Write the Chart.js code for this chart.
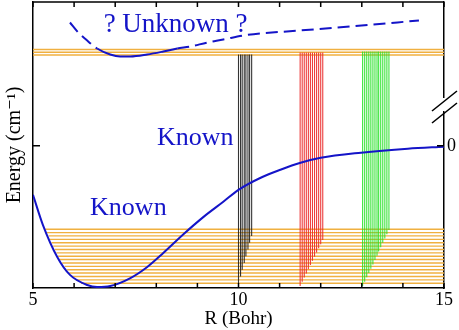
<!DOCTYPE html>
<html>
<head>
<meta charset="utf-8">
<script src="https://cdn.jsdelivr.net/npm/chart.js@4"></script>
<style>
  body { margin: 0; background: #fff; }
  canvas { display: block; }
</style>
</head>
<body>
<canvas id="potChart" width="459" height="330"></canvas>
<script>
// Đường thế đã biết (R theo Bohr, năng lượng tương đối)
const knownR = [5.00, 5.24, 5.59, 5.90, 6.32, 6.56, 6.88, 7.37, 7.78, 8.17, 8.66, 9.15, 9.63, 10.00, 10.54, 11.02, 11.51, 12.00, 12.98, 14.12, 15.00];
const knownE = [-0.345, -0.556, -0.782, -0.908, -0.979, -0.993, -0.986, -0.930, -0.852, -0.754, -0.622, -0.500, -0.394, -0.310, -0.225, -0.169, -0.120, -0.085, -0.049, -0.021, -0.007];

// Đường thế chưa biết (nét đứt, phần giếng vẽ liền)
const unknownR = [5.90, 6.10, 6.29, 6.56, 6.88, 7.12, 7.37, 7.78, 8.17, 8.51, 8.83, 9.24, 9.63, 10.12, 11.51, 12.73, 14.39];
const unknownE = [0.866, 0.796, 0.746, 0.683, 0.641, 0.627, 0.627, 0.641, 0.662, 0.683, 0.697, 0.725, 0.746, 0.775, 0.810, 0.838, 0.880];
const solidFrom = 6.56, solidTo = 8.51;

// Mức năng lượng
const upperLevels = [0.676, 0.657, 0.637];
const lowerLevels = [-0.587, -0.611, -0.634, -0.658, -0.682, -0.706, -0.729, -0.753, -0.777, -0.800, -0.824, -0.848, -0.872, -0.895, -0.919, -0.943, -0.967];
const lowerLeftR = [5.30, 5.34, 5.38, 5.41, 5.45, 5.49, 5.53, 5.57, 5.61, 5.65, 5.71, 5.77, 5.83, 5.88, 5.95, 6.05, 6.17];

// Các chuyển dời (vạch đứng)
const blackR = [10.00, 10.05, 10.09, 10.14, 10.18, 10.23, 10.27, 10.32];
const blackBottom = [-0.967, -0.919, -0.872, -0.824, -0.777, -0.729, -0.682, -0.634];
const blackTop = 0.641;
const redR = [11.50, 11.55, 11.60, 11.65, 11.70, 11.75, 11.80, 11.85, 11.90, 11.95, 12.00, 12.05];
const redBottom = [-0.986, -0.956, -0.927, -0.898, -0.868, -0.839, -0.809, -0.780, -0.750, -0.721, -0.692, -0.662];
const redTop = 0.655;
const greenR = [13.02, 13.07, 13.12, 13.17, 13.22, 13.27, 13.32, 13.37, 13.41, 13.46, 13.51, 13.56, 13.61, 13.66];
const greenBottom = [-0.986, -0.956, -0.925, -0.895, -0.865, -0.835, -0.804, -0.773, -0.743, -0.713, -0.682, -0.652, -0.622, -0.592];
const greenTop = 0.662;

// Trục
const xTicks = [5, 6, 7, 8, 9, 10, 11, 12, 13, 14, 15];
const xTickLabels = ["5", "", "", "", "", "10", "", "", "", "", "15"];
const rightTickLabel = "0";

// Chữ chú thích
const notes = [
  { text: "? Unknown ?", x: 8.47, y: 0.85, size: 27 },
  { text: "Known", x: 8.95, y: 0.056, size: 26 },
  { text: "Known", x: 7.32, y: -0.437, size: 26 }
];

const BLUE = "#1414c8";
const ORANGE = "#f0b040";
const SERIF = "'Liberation Serif', 'DejaVu Serif', serif";

function toPts(xs, ys) {
  return xs.map((x, i) => ({ x: x, y: ys[i] }));
}

const datasets = [];

datasets.push({
  data: toPts(knownR, knownE),
  borderColor: BLUE, borderWidth: 2, order: 0,
  cubicInterpolationMode: "monotone"
});
datasets.push({
  data: toPts(unknownR, unknownE),
  borderColor: BLUE, borderWidth: 2, order: 0,
  cubicInterpolationMode: "monotone",
  segment: {
    borderDash: ctx => (ctx.p0.parsed.x >= solidFrom && ctx.p1.parsed.x <= solidTo) ? [] : [12, 6]
  }
});

function addSticks(rs, bottoms, top, color) {
  rs.forEach((r, i) => {
    datasets.push({
      data: [{ x: r, y: bottoms[i] }, { x: r, y: top }],
      borderColor: color, borderWidth: 1.1, order: 1
    });
  });
}
addSticks(blackR, blackBottom, blackTop, "rgba(30,30,30,0.9)");
addSticks(redR, redBottom, redTop, "rgba(235,40,40,0.9)");
addSticks(greenR, greenBottom, greenTop, "rgba(40,225,40,0.9)");

upperLevels.forEach(e => {
  datasets.push({ data: [{ x: 5, y: e }, { x: 15, y: e }], borderColor: ORANGE, borderWidth: 1.4, order: 2 });
});
lowerLevels.forEach((e, i) => {
  datasets.push({ data: [{ x: lowerLeftR[i], y: e }, { x: 15, y: e }], borderColor: ORANGE, borderWidth: 1.4, order: 2 });
});

datasets.forEach(d => { d.showLine = true; d.pointRadius = 0; d.fill = false; });

// Vẽ khung, vạch chia hướng vào trong, dấu ngắt trục và chữ
const framePlugin = {
  id: "frame",
  afterDraw(chart) {
    const { ctx, chartArea: a, scales } = chart;
    const xs = scales.x, ys = scales.y;
    ctx.save();
    ctx.strokeStyle = "#000";
    ctx.lineWidth = 1.5;
    ctx.beginPath();
    ctx.moveTo(a.left, a.top); ctx.lineTo(a.right, a.top);
    xTicks.forEach(t => {
      const px = xs.getPixelForValue(t);
      ctx.moveTo(px, a.top); ctx.lineTo(px, a.top + 5);
      ctx.moveTo(px, a.bottom); ctx.lineTo(px, a.bottom - 5);
    });
    const y0 = ys.getPixelForValue(0);
    ctx.moveTo(a.left, y0); ctx.lineTo(a.left + 7, y0);
    ctx.moveTo(a.right, y0); ctx.lineTo(a.right - 7, y0);
    ctx.stroke();

    // nhãn 0 bên phải
    ctx.fillStyle = "#000";
    ctx.font = "18px " + SERIF;
    ctx.textAlign = "left";
    ctx.textBaseline = "middle";
    ctx.fillText(rightTickLabel, a.right + 3, y0 + 1);

    // dấu //
    ctx.fillStyle = "#fff";
    ctx.fillRect(a.right - 2, 98, 4, 13);
    ctx.lineWidth = 1.6;
    ctx.beginPath();
    ctx.moveTo(432, 111); ctx.lineTo(457, 91);
    ctx.moveTo(432, 123); ctx.lineTo(457, 103);
    ctx.stroke();

    ctx.fillStyle = BLUE;
    ctx.textAlign = "center";
    notes.forEach(n => {
      ctx.font = n.size + "px " + SERIF;
      ctx.fillText(n.text, xs.getPixelForValue(n.x), ys.getPixelForValue(n.y));
    });
    ctx.restore();
  }
};

new Chart(document.getElementById("potChart"), {
  type: "scatter",
  data: { datasets: datasets },
  options: {
    responsive: false,
    animation: false,
    devicePixelRatio: 1,
    layout: { padding: { top: 2 } },
    plugins: { legend: { display: false }, tooltip: { enabled: false } },
    scales: {
      x: {
        type: "linear", position: "bottom", min: 5, max: 15,
        afterBuildTicks: s => { s.ticks = xTicks.map(v => ({ value: v })); },
        afterFit: s => { s.height = 42; },
        ticks: {
          autoSkip: false, maxRotation: 0, padding: 1, color: "#000",
          font: { family: SERIF, size: 18 },
          callback: (v, i) => xTickLabels[i]
        },
        grid: { display: false, drawTicks: false },
        border: { display: true, color: "#000", width: 1.5 },
        title: { display: true, text: "R (Bohr)", color: "#000", font: { family: SERIF, size: 19 }, padding: { top: 0, bottom: 0 } }
      },
      y: {
        type: "linear", position: "left", min: -1, max: 1.01,
        afterFit: s => { s.width = 33; },
        ticks: { display: false },
        grid: { display: false, drawTicks: false },
        border: { display: true, color: "#000", width: 1.5 },
        title: { display: true, text: "Energy (cm⁻¹)", color: "#000", font: { family: SERIF, size: 20 }, padding: { top: 3, bottom: 0 } }
      },
      y2: {
        type: "linear", position: "right", min: -1, max: 1.01,
        afterFit: s => { s.width = 15; },
        ticks: { display: false },
        grid: { display: false, drawTicks: false },
        border: { display: true, color: "#000", width: 1.5 }
      }
    }
  },
  plugins: [framePlugin]
});
</script>
</body>
</html>
